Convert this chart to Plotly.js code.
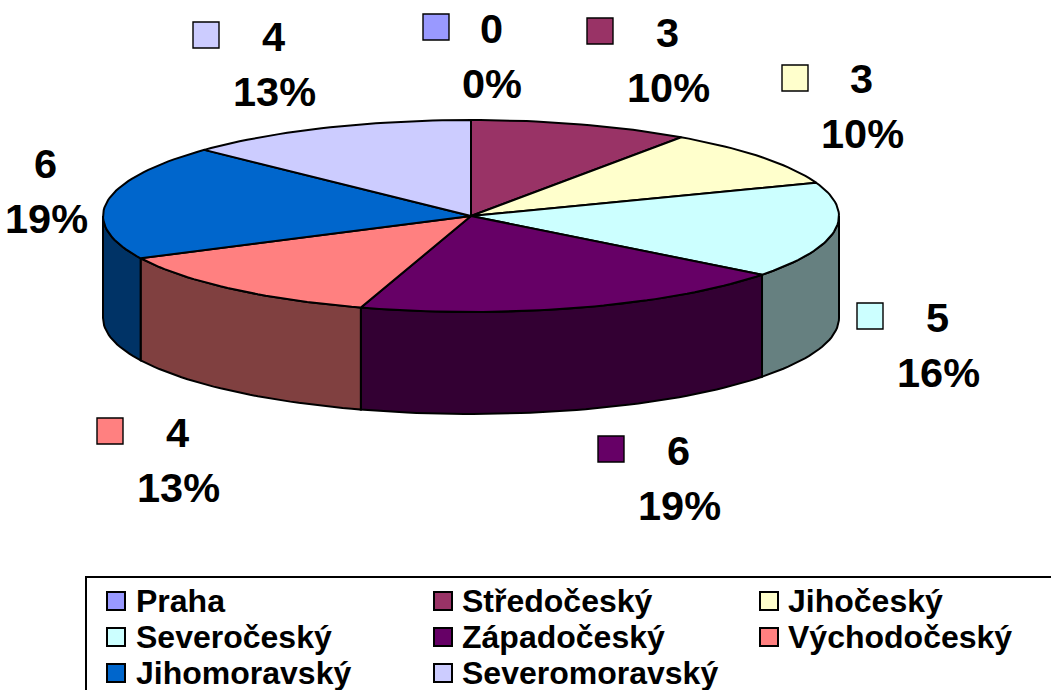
<!DOCTYPE html>
<html><head><meta charset="utf-8">
<script src="https://cdn.plot.ly/plotly-3.0.1.min.js"></script>
<style>html,body{margin:0;padding:0;background:#fff;overflow:hidden}</style>
</head><body><div id="chart" style="width:1051px;height:690px"></div>
<script>
// Data
const categories = ["Praha","Středočeský","Jihočeský","Severočeský","Západočeský","Východočeský","Jihomoravský","Severomoravský"];
const counts = [0,3,3,5,6,4,6,4];
// Styles
const topColors = ["#9999FF","#993366","#FFFFCC","#CCFFFF","#660066","#FF8080","#0066CC","#CCCCFF"];
const sideColors = ["#4D4D80","#4D1A33","#808066","#668080","#330033","#804040","#003366","#666680"];
// Layout (page pixels)
const cx = 471, cy = 216, rx = 368, ry = 96, depth = 102;
const keyX = [436,600,795,870,611,110,-40,206];
const keyY = [27,31,78,316,449,431,200,35];
const labelX = [491,667,861,937,678,177,45,273];
const labelY = [28,32,78,317,450,432,163,36];
const pctDX = 1, pctDY = 55;
const legendKeyX = [116,443,769];
const legendTextX = [136,462,788];
const legendRowY = [601,637,673];
const FONT = "'Liberation Sans', Arial, sans-serif";

const total = counts.reduce((a,b)=>a+b,0);
const rad = d => d*Math.PI/180;
const px = a => cx + rx*Math.sin(rad(a));
const py = a => cy - ry*Math.cos(rad(a));
function arc(a0,a1){
  const n = Math.max(1,Math.ceil(Math.abs(a1-a0)/1.5)), xs=[], ys=[];
  for(let i=0;i<=n;i++){const a=a0+(a1-a0)*i/n; xs.push(px(a)); ys.push(py(a));}
  return [xs,ys];
}
const traces = [];
// Wall of the disc
let acc = 0;
categories.forEach((c,i)=>{
  const a0 = acc/total*360, a1 = (acc+counts[i])/total*360; acc += counts[i];
  const s = Math.max(a0,90), e = Math.min(a1,270);
  if(e<=s) return;
  const [xs,ys] = arc(s,e);
  traces.push({type:"scatter",mode:"lines",fill:"toself",fillcolor:sideColors[i],
    line:{color:"#000",width:2},hoverinfo:"skip",showlegend:false,
    x:xs.concat(xs.slice().reverse(),[xs[0]]),
    y:ys.concat(ys.slice().reverse().map(v=>v+depth),[ys[0]])});
});
// Top face
acc = 0;
categories.forEach((c,i)=>{
  const a0 = acc/total*360, a1 = (acc+counts[i])/total*360; acc += counts[i];
  if(a1<=a0) return;
  const [xs,ys] = arc(a0,a1);
  traces.push({type:"scatter",mode:"lines",fill:"toself",fillcolor:topColors[i],
    line:{color:"#000",width:2},name:c,showlegend:false,hoverinfo:"name",
    x:[cx].concat(xs,[cx]),y:[cy].concat(ys,[cy])});
});
// Keys beside data labels
traces.push({type:"scatter",mode:"markers",x:keyX,y:keyY,hoverinfo:"skip",showlegend:false,cliponaxis:true,
  marker:{symbol:"square",size:26,color:topColors,line:{color:"#000",width:1.4}}});
// Legend keys
const lkx=[],lky=[];
categories.forEach((c,i)=>{lkx.push(legendKeyX[i%3]);lky.push(legendRowY[Math.floor(i/3)]);});
traces.push({type:"scatter",mode:"markers",x:lkx,y:lky,hoverinfo:"skip",showlegend:false,
  marker:{symbol:"square",size:18,color:topColors,line:{color:"#000",width:2}}});

const annotations = [];
categories.forEach((c,i)=>{
  annotations.push({x:labelX[i],y:labelY[i],xref:"x",yref:"y",text:String(counts[i]),showarrow:false,
    xanchor:"center",yanchor:"middle",font:{family:FONT,size:41.5,color:"#000",weight:700}});
  annotations.push({x:labelX[i]+pctDX,y:labelY[i]+pctDY,xref:"x",yref:"y",
    text:Math.round(counts[i]/total*100)+"%",showarrow:false,
    xanchor:"center",yanchor:"middle",font:{family:FONT,size:41.5,color:"#000",weight:700}});
  annotations.push({x:legendTextX[i%3],y:legendRowY[Math.floor(i/3)],xref:"x",yref:"y",text:c,showarrow:false,
    xanchor:"left",yanchor:"middle",xshift:-2,font:{family:FONT,size:32,color:"#000",weight:700}});
});

const layout = {
  width:1051,height:690,margin:{l:0,r:0,t:0,b:0},
  paper_bgcolor:"#fff",plot_bgcolor:"#fff",showlegend:false,
  xaxis:{range:[0,1051],visible:false,fixedrange:true},
  yaxis:{range:[690,0],visible:false,fixedrange:true},
  shapes:[{type:"rect",xref:"x",yref:"y",x0:86,y0:577,x1:1070,y1:710,line:{color:"#000",width:2},fillcolor:"rgba(0,0,0,0)"}],
  annotations
};
Plotly.newPlot("chart",traces,layout,{displayModeBar:false,staticPlot:true});
</script></body></html>
